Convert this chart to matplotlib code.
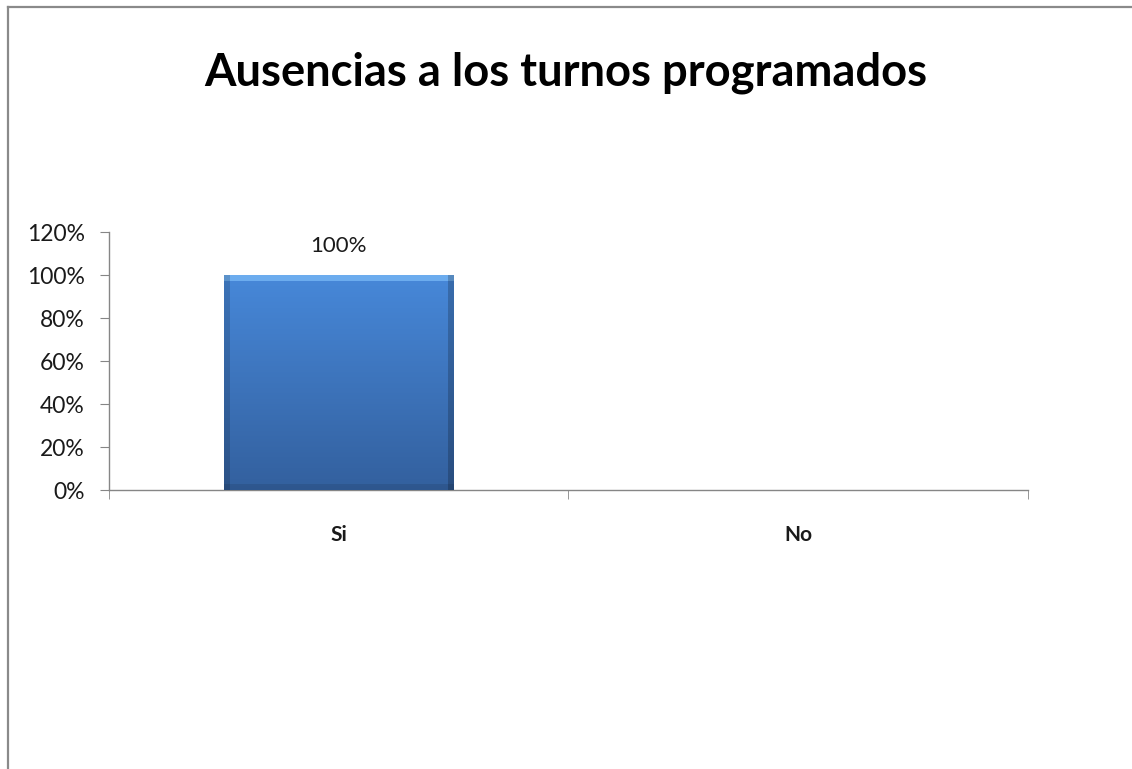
import numpy as np
import matplotlib
matplotlib.use("Agg")
import matplotlib.pyplot as plt
from matplotlib.lines import Line2D

categorias = ["Si", "No"]
valores = [1.00, 0.0]
etiquetas_y = ["0%", "20%", "40%", "60%", "80%", "100%", "120%"]
titulo = "Ausencias a los turnos programados"

plt.rcParams['font.family'] = ['Lato', 'DejaVu Sans']

fig = plt.figure(figsize=(11.32, 7.69), dpi=100)
ax = fig.add_axes([0.0963, 0.3628, 0.8115, 0.3355])

x = np.arange(len(categorias))
bars = ax.bar(x, valores, width=0.5, color="#3f7bc8", zorder=2)


def relleno_bisel(nx=230, ny=215):
    # degradado vertical con bordes biselados (claro arriba, oscuro a los lados)
    top = np.array([0x47, 0x88, 0xd9]) / 255
    bot = np.array([0x33, 0x60, 0x9e]) / 255
    t = np.linspace(0, 1, ny).reshape(-1, 1, 1)  # 0 abajo, 1 arriba
    img = bot + (top - bot) * t
    img = np.repeat(img, nx, axis=1)
    bw = 6
    img[-bw:, :, :] = np.array([0x6c, 0xac, 0xee]) / 255
    img[:, :bw, :] *= 0.85
    img[:, -bw:, :] *= 0.8
    img[:bw, :, :] *= 0.9
    return np.clip(img, 0, 1)


for b, v in zip(bars, valores):
    if v <= 0:
        continue
    x0, w = b.get_x(), b.get_width()
    im = ax.imshow(relleno_bisel(), aspect="auto", origin="lower",
                   extent=[x0, x0 + w, 0, v], zorder=3, interpolation="bilinear")
    im.set_clip_path(b)
    ax.text(x0 + w / 2, v + 0.135, f"{v:.0%}", ha="center", va="center",
            fontsize=16, color="#1a1a1a")

ax.set_xlim(-0.5, len(categorias) - 0.5)
ax.set_ylim(0, 1.2)
ax.set_yticks(np.arange(0, 1.21, 0.2))
ax.set_yticklabels(etiquetas_y, fontsize=16.5, color="#1a1a1a")
ax.set_xticks(x)
ax.set_xticklabels(categorias, fontsize=15, fontweight="bold", color="#1a1a1a")
ax.tick_params(axis="x", length=0, pad=25)
ax.set_xticks(np.arange(-0.5, len(categorias), 1.0), minor=True)
ax.tick_params(axis="x", which="minor", length=6.5, color="#868686", direction="out")
ax.tick_params(axis="y", length=6.5, color="#868686", pad=11)

for s in ["top", "right"]:
    ax.spines[s].set_visible(False)
for s in ["left", "bottom"]:
    ax.spines[s].set_color("#868686")
    ax.spines[s].set_linewidth(1)

fig.text(0.5, 0.905, titulo, ha="center", va="center", fontsize=32.7,
         fontweight="bold", color="#000000")

# marco del gráfico (solo arriba e izquierda visibles)
fig.add_artist(Line2D([8 / 1132, 1], [1 - 7 / 769, 1 - 7 / 769],
                      transform=fig.transFigure, color="#8a8a8a", lw=1.6))
fig.add_artist(Line2D([8 / 1132, 8 / 1132], [0, 1 - 7 / 769],
                      transform=fig.transFigure, color="#8a8a8a", lw=1.6))

fig.savefig("out.png", dpi=100)
